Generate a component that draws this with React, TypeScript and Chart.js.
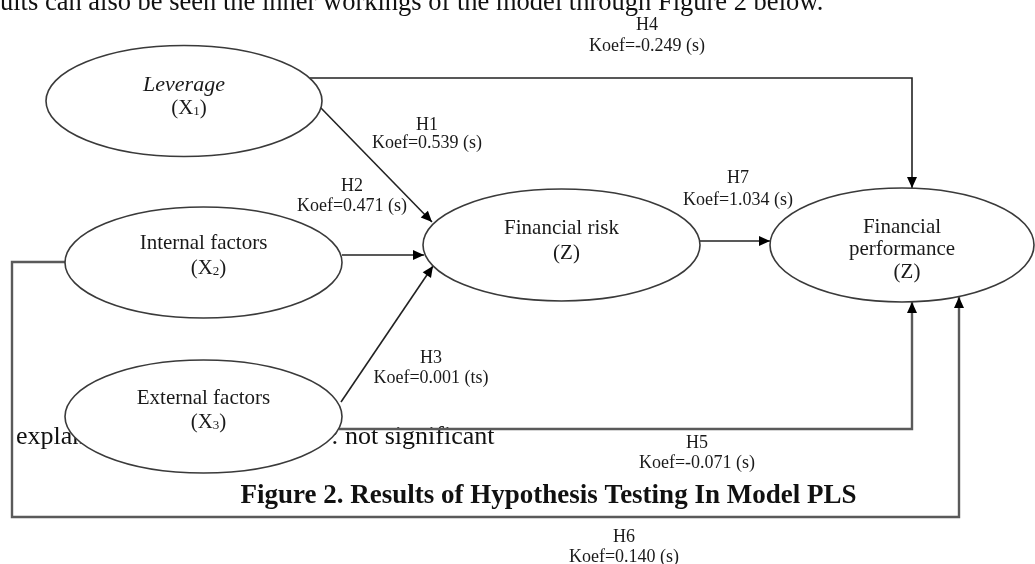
import React, { useEffect, useRef } from "react";
import { Chart, registerables } from "chart.js";
Chart.register(...registerables);

const W = 1035;
const H = 564;

// ---- content ----
const constructNameLines: string[][] = [
  ["Leverage"],
  ["Internal factors"],
  ["External factors"],
  ["Financial risk"],
  ["Financial", "performance"],
];
const constructSymbols = ["X", "X", "X", "Z", "Z"];
const constructSubscripts = ["1", "2", "3", "", ""];
const hypothesisIds = ["H1", "H2", "H3", "H4", "H5", "H6", "H7"];
const coefficients = ["0.539", "0.471", "0.001", "-0.249", "-0.071", "0.140", "1.034"];
const significance = ["s", "s", "ts", "s", "s", "s", "s"];
const introText = "ults can also be seen the inner workings of the model through Figure 2 below.";
const legendLead = "explanation";
const legendTail = ": not significant";
const captionText = "Figure 2. Results of Hypothesis Testing In Model PLS";

// ---- layout (diagram coordinates, same units as the chart scales) ----
const nodeCenters = [
  [184, 101],
  [203.5, 262.5],
  [203.5, 416.5],
  [561.5, 245],
  [902, 245],
];
const nodeRadii = [
  [138, 55.5],
  [138.5, 55.5],
  [138.5, 56.5],
  [138.5, 56],
  [132, 57],
];
const nodeLineY = [
  [85, 108],
  [243, 268],
  [398, 422],
  [228, 253],
  [227, 249, 272],
];
const pathH1 = [[320, 107], [432, 222]];
const pathH2 = [[342, 255], [424, 255]];
const pathH3 = [[341, 402], [433, 266]];
const pathH4 = [[310, 78], [912, 78], [912, 188]];
const pathH5 = [[339, 429], [912, 429], [912, 302]];
const pathH6 = [[65, 262], [12, 262], [12, 517], [959, 517], [959, 297]];
const pathH7 = [[700, 241], [770, 241]];
const paths = [pathH1, pathH2, pathH3, pathH4, pathH5, pathH6, pathH7];
const labelPos = [
  [427, 125, 143],
  [352, 186, 206],
  [431, 358, 378],
  [647, 25, 46],
  [697, 443, 463],
  [624, 537, 557],
  [738, 178, 200],
];

const SERIF = '"Liberation Serif", "Times New Roman", serif';

type Seg = { text: string; font: string; dy?: number };

function drawSegs(ctx: CanvasRenderingContext2D, segs: Seg[], cx: number, cy: number) {
  let total = 0;
  segs.forEach((s) => {
    ctx.font = s.font;
    total += ctx.measureText(s.text).width;
  });
  let x = cx - total / 2;
  segs.forEach((s) => {
    ctx.font = s.font;
    ctx.fillText(s.text, x, cy + (s.dy || 0));
    x += ctx.measureText(s.text).width;
  });
}

const diagramPlugin = {
  id: "diagram",
  beforeDatasetsDraw(chart: any) {
    const { ctx, scales } = chart;
    const px = (v: number) => scales.x.getPixelForValue(v);
    const py = (v: number) => scales.y.getPixelForValue(v);
    ctx.save();
    ctx.fillStyle = "#111";
    ctx.textAlign = "left";
    ctx.textBaseline = "alphabetic";
    ctx.font = `26.5px ${SERIF}`;
    ctx.fillText(introText, px(0), py(10));
    ctx.font = `26px ${SERIF}`;
    ctx.fillText(legendLead, px(16), py(444));
    const w = ctx.measureText(": ").width;
    ctx.fillText(legendTail, px(345) - w, py(444));
    ctx.restore();
  },
  afterDatasetsDraw(chart: any) {
    const { ctx, scales } = chart;
    const px = (v: number) => scales.x.getPixelForValue(v);
    const py = (v: number) => scales.y.getPixelForValue(v);
    ctx.save();
    // arrowheads
    paths.forEach((p) => {
      const a = p[p.length - 2];
      const b = p[p.length - 1];
      const x1 = px(a[0]), y1 = py(a[1]), x2 = px(b[0]), y2 = py(b[1]);
      const ang = Math.atan2(y2 - y1, x2 - x1);
      const len = 11, hw = 5;
      ctx.beginPath();
      ctx.moveTo(x2, y2);
      ctx.lineTo(x2 - len * Math.cos(ang) + hw * Math.sin(ang), y2 - len * Math.sin(ang) - hw * Math.cos(ang));
      ctx.lineTo(x2 - len * Math.cos(ang) - hw * Math.sin(ang), y2 - len * Math.sin(ang) + hw * Math.cos(ang));
      ctx.closePath();
      ctx.fillStyle = "#000";
      ctx.fill();
    });
    // ellipses
    nodeCenters.forEach((c, i) => {
      const cx = px(c[0]), cy = py(c[1]);
      const rx = Math.abs(px(c[0] + nodeRadii[i][0]) - cx);
      const ry = Math.abs(py(c[1] + nodeRadii[i][1]) - cy);
      ctx.beginPath();
      ctx.ellipse(cx, cy, rx, ry, 0, 0, Math.PI * 2);
      ctx.fillStyle = "#fff";
      ctx.fill();
      ctx.lineWidth = 1.6;
      ctx.strokeStyle = "#3a3a3a";
      ctx.stroke();
    });
    // ellipse texts
    ctx.fillStyle = "#1a1a1a";
    ctx.textAlign = "left";
    ctx.textBaseline = "middle";
    nodeCenters.forEach((c, i) => {
      const names = constructNameLines[i];
      const ys = nodeLineY[i];
      names.forEach((n, j) => {
        const font = i === 0 ? `italic 22px ${SERIF}` : `21px ${SERIF}`;
        drawSegs(ctx, [{ text: n, font }], px(c[0]), py(ys[j]));
      });
      const segs: Seg[] = [{ text: "(" + constructSymbols[i], font: `21px ${SERIF}` }];
      if (constructSubscripts[i]) segs.push({ text: constructSubscripts[i], font: `13px ${SERIF}`, dy: 4 });
      segs.push({ text: ")", font: `21px ${SERIF}` });
      drawSegs(ctx, segs, px(c[0] + 5), py(ys[names.length]));
    });
    // hypothesis labels
    hypothesisIds.forEach((h, i) => {
      const [lx, ly1, ly2] = labelPos[i];
      drawSegs(ctx, [{ text: h, font: `18px ${SERIF}` }], px(lx), py(ly1));
      drawSegs(ctx, [{ text: `Koef=${coefficients[i]} (${significance[i]})`, font: `18px ${SERIF}` }], px(lx), py(ly2));
    });
    // caption
    ctx.fillStyle = "#111";
    ctx.textBaseline = "alphabetic";
    drawSegs(ctx, [{ text: captionText, font: `bold 27px ${SERIF}` }], px(548.5), py(503));
    ctx.restore();
  },
};

export default function App() {
  const ref = useRef<HTMLCanvasElement | null>(null);
  useEffect(() => {
    if (!ref.current) return;
    const grey = (i: number) => i === 4 || i === 5;
    const chart = new Chart(ref.current, {
      type: "scatter",
      data: {
        datasets: paths.map((p, i) => ({
          label: hypothesisIds[i],
          data: p.map(([x, y]) => ({ x, y })),
          showLine: true,
          borderColor: grey(i) ? "#5a5a5a" : "#222",
          borderWidth: grey(i) ? 2.4 : 1.6,
          pointRadius: 0,
          tension: 0,
          clip: false as any,
        })),
      },
      options: {
        responsive: false,
        animation: false,
        layout: { padding: 0 },
        plugins: { legend: { display: false }, tooltip: { enabled: false } },
        scales: {
          x: { type: "linear", min: 0, max: W, display: false },
          y: { type: "linear", min: 0, max: H, reverse: true, display: false },
        },
      },
      plugins: [diagramPlugin],
    });
    return () => chart.destroy();
  }, []);
  return (
    <div style={{ position: "fixed", left: 0, top: 0, width: W, height: H, background: "#fff" }}>
      <canvas ref={ref} width={W} height={H} style={{ display: "block" }} />
    </div>
  );
}
